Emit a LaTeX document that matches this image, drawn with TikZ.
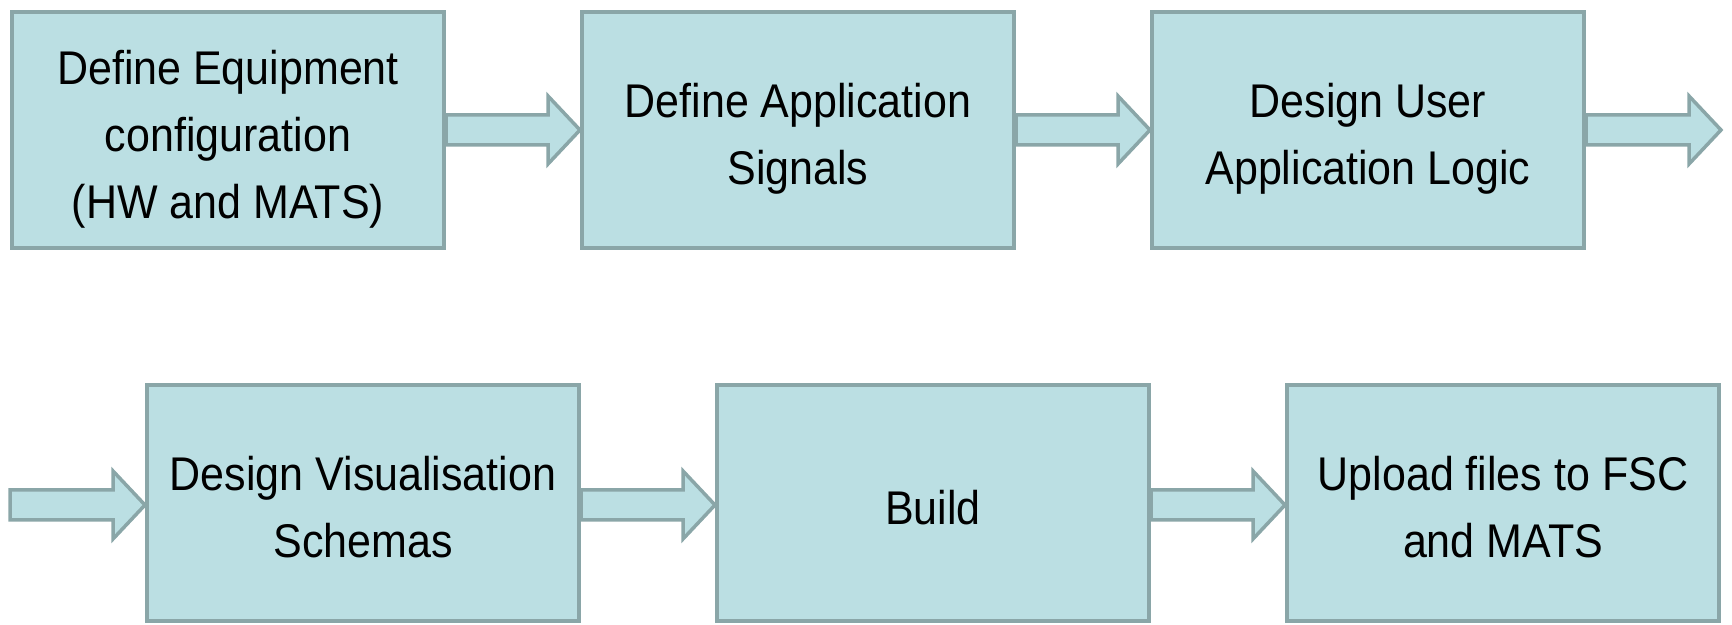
\documentclass[tikz,border=0pt]{standalone}
\usepackage{fontspec}
\setmainfont{Liberation Sans}
\usepackage{graphicx}
\usetikzlibrary{backgrounds,calc}
\definecolor{boxfill}{RGB}{187,223,227}
\definecolor{boxline}{RGB}{138,166,168}
\newcommand{\steptext}[1]{\raisebox{-8pt}[\height][\depth]{\scalebox{1}[1.1]{\begin{tabular}{@{}c@{}}#1\end{tabular}}}}
\newcommand{\blockarrow}[2]{%
  \path[arrowbody] let \p1=(#1), \p2=(#2) in
   (\x1,\y1+15pt) -- (\x2-32pt,\y1+15pt) -- (\x2-32pt,\y1+34pt) -- (\x2,\y1)
   -- (\x2-32pt,\y1-34pt) -- (\x2-32pt,\y1-15pt) -- (\x1,\y1-15pt) -- cycle;}
\tikzset{
  stepbox/.style={draw=boxline, fill=boxfill, line width=4pt, rectangle,
    minimum width=432pt, minimum height=236pt, inner sep=0pt,
    font=\fontsize{43}{61}\selectfont, text=black, align=center},
  arrowbody/.style={draw=boxline, fill=boxfill, line width=3.5pt, line join=miter}
}
\begin{document}
\begin{tikzpicture}[x=1pt,y=1pt]
\useasboundingbox (0,0) rectangle (1732,624);
\node[stepbox] (b1) at (228,494) {\steptext{Define Equipment\\configuration\\(HW and MATS)}};
\node[stepbox] (b2) at (798,494) {\steptext{Define Application\\Signals}};
\node[stepbox] (b3) at (1368,494) {\steptext{Design User\\Application Logic}};
\node[stepbox] (b4) at (363,121) {\steptext{Design Visualisation\\Schemas}};
\node[stepbox] (b5) at (933,121) {\steptext{Build}};
\node[stepbox] (b6) at (1503,121) {\steptext{Upload files to FSC\\and MATS}};
\coordinate (e3) at (1721,494);
\coordinate (s4) at (10,119);
\begin{pgfonlayer}{background}
\blockarrow{b1.east}{b2.west}
\blockarrow{b2.east}{b3.west}
\blockarrow{b3.east}{e3}
\blockarrow{s4}{[yshift=-2pt]b4.west}
\blockarrow{[yshift=-2pt]b4.east}{b5.west}
\blockarrow{[yshift=-2pt]b5.east}{b6.west}
\end{pgfonlayer}
\end{tikzpicture}
\end{document}
